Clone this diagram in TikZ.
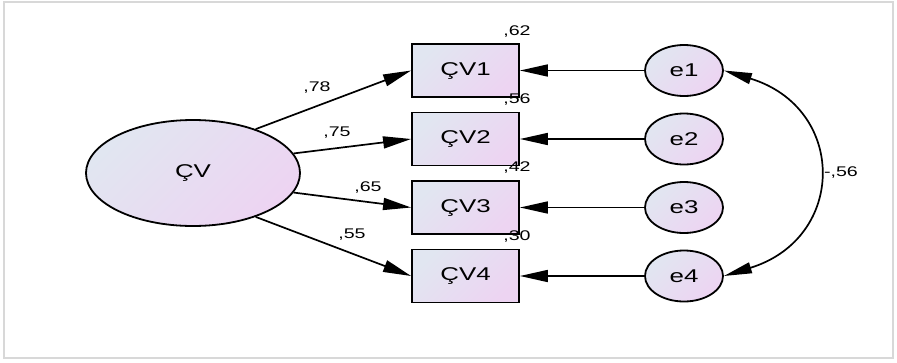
\documentclass[tikz,border=0pt]{standalone}
\usepackage{fontspec}
\setmainfont{Liberation Sans}[FakeStretch=1.4]
\usetikzlibrary{arrows.meta,shapes.geometric}
\definecolor{cA}{RGB}{225,230,241}
\definecolor{cB}{RGB}{237,212,242}
\definecolor{frameg}{RGB}{216,216,216}
\begin{document}
\begin{tikzpicture}[x=1pt,y=-1pt,
  shadefill/.style={shading=axis, top color=cA, bottom color=cB, shading angle=45},
  latent/.style={ellipse, draw, line width=1.8pt, shadefill, minimum width=214pt, minimum height=106pt, inner sep=0pt, font=\fontsize{18.5}{22}\selectfont},
  obs/.style={rectangle, draw, line width=1.8pt, shadefill, minimum width=107pt, minimum height=53pt, inner sep=0pt, font=\fontsize{18.5}{22}\selectfont},
  err/.style={ellipse, draw, line width=1.8pt, shadefill, minimum width=78pt, minimum height=51pt, inner sep=0pt, font=\fontsize{18.5}{22}\selectfont},
  lbl/.style={inner sep=0pt, font=\fontsize{14}{16}\selectfont},
  path/.style={line width=1.7pt, -{Triangle[length=28pt,width=12pt]}},
  cov/.style={line width=1.7pt, {Triangle[length=28pt,width=11pt]}-{Triangle[length=28pt,width=11pt]}}
]
\useasboundingbox (0,0) rectangle (897,362);
\draw[frameg, line width=1.5pt] (4,2) rectangle (893,358);

\node[latent] (cv) at (193,173) {ÇV};
\node[obs] (b1) at (465.5,70.5) {ÇV1};
\node[obs] (b2) at (465.5,139) {ÇV2};
\node[obs] (b3) at (465.5,207.5) {ÇV3};
\node[obs] (b4) at (465.5,276) {ÇV4};
\node[err] (e1) at (684,70.5) {e1};
\node[err] (e2) at (684,139) {e2};
\node[err] (e3) at (684,207.5) {e3};
\node[err] (e4) at (684,276) {e4};

\node[lbl] (r1) at (517,32) {,62};
\node[lbl] (r2) at (517,100) {,56};
\node[lbl] (r3) at (517,168) {,42};
\node[lbl] (r4) at (517,237) {,30};

\draw[path] (cv.35) -- (b1.west);
\draw[path] (cv.11) -- (b2.west);
\draw[path] (cv.-11) -- (b3.west);
\draw[path] (cv.-35) -- (b4.west);

\node[lbl] (l1) at (317,88) {,78};
\node[lbl] (l2) at (337,133) {,75};
\node[lbl] (l3) at (368,188) {,65};
\node[lbl] (l4) at (352,235) {,55};

\draw[path] (e1.west) -- (b1.east);
\draw[path] (e2.west) -- (b2.east);
\draw[path] (e3.west) -- (b3.east);
\draw[path] (e4.west) -- (b4.east);

\draw[cov] (e1.east) .. controls (847,108) and (847,238) .. (e4.east);
\node[lbl] (c14) at (841,173) {-,56};
\end{tikzpicture}
\end{document}
